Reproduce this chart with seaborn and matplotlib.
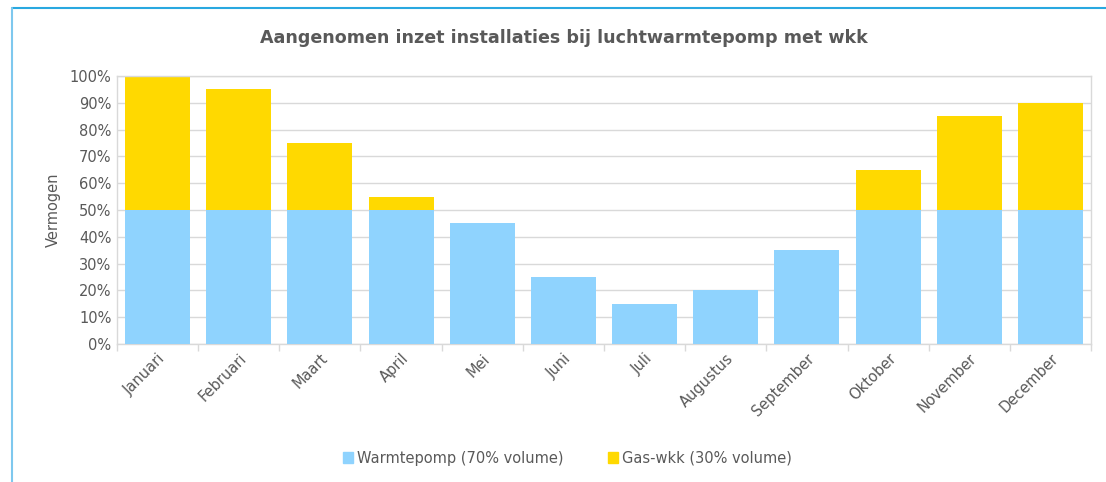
import pandas as pd
import matplotlib.pyplot as plt
import seaborn as sns
from matplotlib.lines import Line2D
from matplotlib.patches import Patch
from matplotlib.ticker import PercentFormatter

sns.set_style("white")
plt.rcParams['font.family'] = ['DejaVu Sans']

# ---- data ----
maanden = ["Januari", "Februari", "Maart", "April", "Mei", "Juni", "Juli",
           "Augustus", "September", "Oktober", "November", "December"]
warmtepomp = [50, 50, 50, 50, 45, 25, 15, 20, 35, 50, 50, 50]
gas_wkk = [50, 45, 25, 5, 0, 0, 0, 0, 0, 15, 35, 40]

blue = "#8fd3fe"
yellow = "#ffd900"
grey_txt = "#595959"
grid_c = "#d9d9d9"

df = pd.DataFrame({"Maand": maanden, "Warmtepomp": warmtepomp, "Gas": gas_wkk})
df["Totaal"] = df["Warmtepomp"] + df["Gas"]

fig = plt.figure(figsize=(11.06, 4.82), dpi=100)
ax = fig.add_axes([117/1106, 1-344/482, (1091-117)/1106, (344-76)/482])

# stacked: total first (yellow), then blue part on top
sns.barplot(data=df, x="Maand", y="Totaal", color=yellow, width=0.8,
            saturation=1, linewidth=0, ax=ax, zorder=2)
sns.barplot(data=df, x="Maand", y="Warmtepomp", color=blue, width=0.8,
            saturation=1, linewidth=0, ax=ax, zorder=3)

ax.set_ylim(0, 100)
ax.set_xlim(-0.5, 11.5)
ax.set_yticks(range(0, 101, 10))
ax.yaxis.set_major_formatter(PercentFormatter(decimals=0))
ax.grid(axis="y", color=grid_c, linewidth=1, zorder=0)
ax.set_axisbelow(True)
for s in ax.spines.values():
    s.set_color(grid_c)
    s.set_linewidth(1)

ax.set_xlabel("")
ax.set_ylabel("Vermogen", fontsize=10.5, color=grey_txt, labelpad=6)
ax.tick_params(axis="y", labelsize=10.5, colors=grey_txt, length=0, pad=4)
ax.tick_params(axis="x", labelsize=10.5, colors=grey_txt, length=0, pad=5)
plt.setp(ax.get_xticklabels(), rotation=45, ha="right", rotation_mode="anchor")

# tick marks between categories on x axis
ax.set_xticks([i - 0.5 for i in range(13)], minor=True)
ax.tick_params(axis="x", which="minor", bottom=True, length=5, width=1,
               color=grid_c)

fig.suptitle("Aangenomen inzet installaties bij luchtwarmtepomp met wkk",
             x=564/1106, y=1-38/482, va="center", fontsize=12.6,
             fontweight="bold", color=grey_txt)

handles = [Patch(color=blue, label="Warmtepomp (70% volume)"),
           Patch(color=yellow, label="Gas-wkk (30% volume)")]
fig.legend(handles=handles, loc="center", bbox_to_anchor=(0.513, 1-458/482),
           ncol=2, frameon=False, fontsize=10.5, handlelength=0.7,
           handleheight=0.7, handletextpad=0.3, columnspacing=3,
           labelcolor=grey_txt)

# outer frame lines
fig.add_artist(Line2D([12/1106, 1], [1-8/482, 1-8/482], color="#29a8e0", lw=1.5))
fig.add_artist(Line2D([12/1106, 12/1106], [0, 1-8/482], color="#7ec8ee", lw=1.5))

fig.savefig("out.png", dpi=100)
